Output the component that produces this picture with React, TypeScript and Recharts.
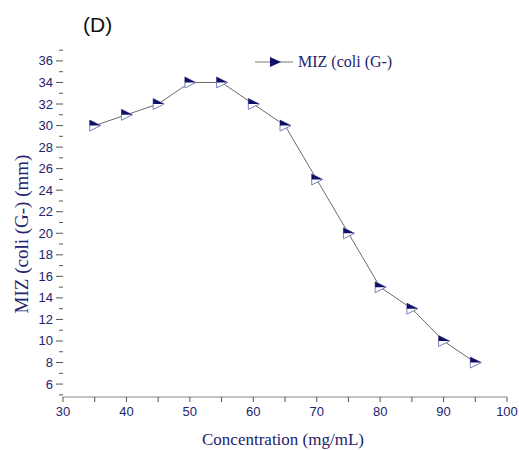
import { LineChart, Line, XAxis, YAxis } from 'recharts';

const concentrations = [35, 40, 45, 50, 55, 60, 65, 70, 75, 80, 85, 90, 95];
const mizValues = [30, 31, 32, 34, 34, 32, 30, 25, 20, 15, 13, 10, 8];
const xTicks = [30, 35, 40, 45, 50, 55, 60, 65, 70, 75, 80, 85, 90, 95, 100];
const yTicks = [5, 6, 7, 8, 9, 10, 11, 12, 13, 14, 15, 16, 17, 18, 19, 20, 21, 22, 23, 24, 25, 26, 27, 28, 29, 30, 31, 32, 33, 34, 35, 36, 37];

const data = concentrations.map((c, i) => ({ x: c, miz: mizValues[i] }));

const NAVY = '#23236e';
const AXIS_X = 63;
const AXIS_Y = 397;

const TriangleDot = (props: any) => {
  const { cx, cy } = props;
  if (cx == null || cy == null) return null;
  return (
    <g>
      <polygon
        points={`${cx - 5},${cy - 5.5} ${cx + 6},${cy} ${cx - 5},${cy + 5.5}`}
        fill="#fff"
        stroke="#7d80b8"
        strokeWidth={1}
      />
      <polygon points={`${cx - 5},${cy - 5.5} ${cx + 6},${cy} ${cx - 5},${cy}`} fill="#10106a" />
    </g>
  );
};

const YTick = (props: any) => {
  const { y, payload } = props;
  const v = payload.value;
  const major = v % 2 === 0 && v >= 6 && v <= 36;
  return (
    <g>
      <line x1={major ? AXIS_X - 7 : AXIS_X - 4} x2={AXIS_X} y1={y} y2={y} stroke="#555" strokeWidth={1} />
      {major && (
        <text x={AXIS_X - 10} y={y} dy={4.5} textAnchor="end" fontSize={13} fill={NAVY} fontFamily="Liberation Sans, Arial, sans-serif">
          {v}
        </text>
      )}
    </g>
  );
};

const XTick = (props: any) => {
  const { x, payload } = props;
  const v = payload.value;
  const major = v % 10 === 0;
  return (
    <g>
      <line x1={x} x2={x} y1={AXIS_Y} y2={AXIS_Y + 5} stroke="#555" strokeWidth={1} />
      {major && (
        <text x={x} y={AXIS_Y + 19} textAnchor="middle" fontSize={13} fill={NAVY} fontFamily="Liberation Sans, Arial, sans-serif">
          {v}
        </text>
      )}
    </g>
  );
};

export default function App() {
  return (
    <div style={{ position: 'absolute', left: 0, top: 0, width: 519, height: 450, background: '#fff' }}>
      <div
        style={{
          position: 'absolute',
          left: 83,
          top: 13,
          fontSize: 21,
          fontFamily: 'Liberation Sans, Arial, sans-serif',
          color: '#111',
        }}
      >
        (D)
      </div>
      <svg style={{ position: 'absolute', left: 0, top: 0 }} width={519} height={450}>
        <line x1={255} x2={293} y1={62} y2={62} stroke="#555" strokeWidth={0.8} />
        <polygon points="270,57 281,62 270,67" fill="#10106a" />
        <text x={298} y={67} fontSize={16} fill={NAVY} fontFamily="Liberation Serif, Times New Roman, serif">
          MIZ (coli (G-)
        </text>
        <text
          x={28}
          y={234}
          transform="rotate(-90 28 234)"
          textAnchor="middle"
          fontSize={19}
          fill={NAVY}
          fontFamily="Liberation Serif, Times New Roman, serif"
        >
          MIZ (coli (G-) (mm)
        </text>
        <text x={283} y={445} textAnchor="middle" fontSize={17} fill={NAVY} fontFamily="Liberation Serif, Times New Roman, serif">
          Concentration (mg/mL)
        </text>
      </svg>
      <div style={{ position: 'absolute', left: 0, top: 0 }}>
        <LineChart width={519} height={450} data={data} margin={{ top: 48, right: 12, left: 0, bottom: 0 }}>
          <XAxis
            dataKey="x"
            type="number"
            domain={[30, 100]}
            ticks={xTicks}
            interval={0}
            height={53}
            axisLine={{ stroke: '#888', strokeWidth: 1 }}
            tickLine={false}
            tick={<XTick />}
          />
          <YAxis
            type="number"
            domain={[4.8, 37.2]}
            ticks={yTicks}
            interval={0}
            width={63}
            axisLine={false}
            tickLine={false}
            tick={<YTick />}
          />
          <Line
            dataKey="miz"
            stroke="#444"
            strokeWidth={0.8}
            dot={<TriangleDot />}
            activeDot={false}
            isAnimationActive={false}
          />
        </LineChart>
      </div>
    </div>
  );
}
